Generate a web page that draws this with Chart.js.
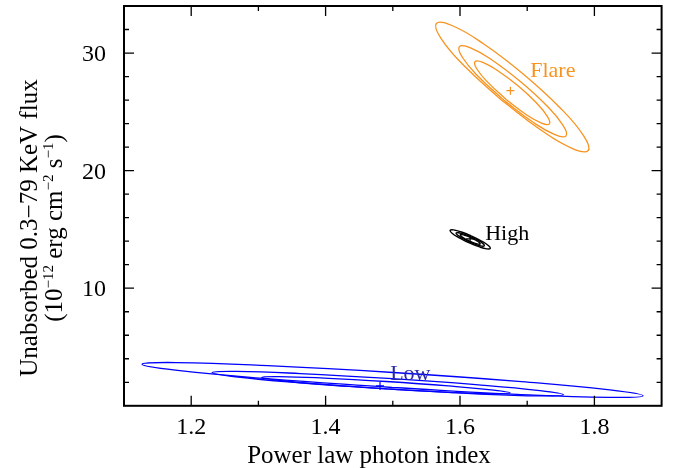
<!DOCTYPE html>
<html>
<head>
<meta charset="utf-8">
<script src="https://cdn.jsdelivr.net/npm/chart.js@4.4.1/dist/chart.umd.min.js"></script>
<style>
  html, body { margin: 0; padding: 0; background: #fff; }
  canvas { display: block; }
</style>
</head>
<body>
<canvas id="myChart" width="681" height="468"></canvas>
<script>
// confidence contours, points: [photon index, flux]
const flare68 = [[1.6691,26.03],[1.6426,27.44],[1.6254,28.62],[1.6223,29.27],[1.6340,29.21],[1.6574,28.45],[1.6863,27.21],[1.7128,25.81],[1.7299,24.62],[1.7330,23.98],[1.7213,24.04],[1.6979,24.79]];
const flare90 = [[1.6665,25.93],[1.6284,27.94],[1.6037,29.62],[1.5991,30.54],[1.6157,30.44],[1.6491,29.35],[1.6903,27.56],[1.7284,25.56],[1.7531,23.87],[1.7578,22.96],[1.7412,23.06],[1.7078,24.15]];
const flare99 = [[1.6616,26.00],[1.6073,28.85],[1.5719,31.23],[1.5648,32.51],[1.5881,32.34],[1.6354,30.77],[1.6940,28.22],[1.7484,25.37],[1.7838,22.98],[1.7908,21.71],[1.7676,21.87],[1.7203,23.45]];

const high68 = [[1.6141,14.01],[1.6068,14.22],[1.6017,14.42],[1.6003,14.54],[1.6028,14.56],[1.6087,14.47],[1.6163,14.29],[1.6236,14.08],[1.6287,13.89],[1.6301,13.77],[1.6276,13.75],[1.6217,13.84]];
const high90 = [[1.6136,13.95],[1.6033,14.25],[1.5962,14.52],[1.5941,14.69],[1.5977,14.72],[1.6060,14.60],[1.6168,14.35],[1.6271,14.06],[1.6342,13.79],[1.6362,13.61],[1.6326,13.58],[1.6243,13.71]];
const high99 = [[1.6130,13.87],[1.5983,14.30],[1.5882,14.68],[1.5853,14.92],[1.5904,14.96],[1.6022,14.78],[1.6174,14.43],[1.6320,14.01],[1.6421,13.63],[1.6450,13.39],[1.6399,13.35],[1.6282,13.53]];

const low68 = [[1.4895,1.439],[1.3971,1.814],[1.3296,2.172],[1.3050,2.419],[1.3299,2.487],[1.3977,2.358],[1.4902,2.067],[1.5826,1.693],[1.6502,1.334],[1.6748,1.088],[1.6498,1.020],[1.5820,1.148]];
const low90 = [[1.4919,1.431],[1.3613,1.962],[1.2658,2.470],[1.2310,2.821],[1.2663,2.921],[1.3621,2.741],[1.4929,2.331],[1.6235,1.800],[1.7190,1.292],[1.7538,0.940],[1.7185,0.841],[1.6227,1.020]];
const low99 = [[1.4990,1.558],[1.3127,2.314],[1.1765,3.038],[1.1269,3.537],[1.1772,3.677],[1.3139,3.419],[1.5004,2.833],[1.6867,2.077],[1.8229,1.353],[1.8725,0.854],[1.8222,0.715],[1.6855,0.973]];

// best fit positions
const flareBest = [1.675, 26.8];
const highBest = [1.615, 14.2];
const lowBest = [1.481, 1.69];

// state labels [name, x, y]
const stateLabels = [['Flare', 1.7045, 28.0], ['High', 1.6375, 14.11], ['Low', 1.4961, 2.20]];

const xMajor = [1.2, 1.4, 1.6, 1.8];
const xMinor = [1.3, 1.5, 1.7];
const yMajor = [10, 20, 30];
const yMinor = [2, 4, 6, 8, 12, 14, 16, 18, 22, 24, 26, 28, 32];
const xTickLabels = ['1.2', '1.4', '1.6', '1.8'];
const yTickLabels = ['10', '20', '30'];

const ORANGE = '#f7931e';
const BLUE = '#0000ff';
const BLUE_TEXT = '#2a2aa8';
const SERIF = '"Liberation Serif", "Times New Roman", serif';

function contour(pts, color, width) {
    let data = pts.concat([pts[0]]).map(p => ({ x: p[0], y: p[1] }));
    return {
        data,
        showLine: true,
        borderColor: color,
        borderWidth: width,
        pointRadius: 0,
        tension: 0.45,
        fill: false
    };
}

function best(p, color) {
    return {
        data: [{ x: p[0], y: p[1] }],
        showLine: false,
        pointStyle: 'cross',
        pointRadius: 4,
        borderColor: color,
        borderWidth: 1.2
    };
}

let datasets = [
    contour(flare68, ORANGE, 1.3), contour(flare90, ORANGE, 1.3), contour(flare99, ORANGE, 1.3),
    contour(high68, '#000', 1.4), contour(high90, '#000', 1.4), contour(high99, '#000', 1.4),
    contour(low68, BLUE, 1.3), contour(low90, BLUE, 1.3), contour(low99, BLUE, 1.3),
    best(flareBest, ORANGE), best(highBest, '#000'), best(lowBest, BLUE)
];

// draws frame, ticks on all four sides, tick labels, titles and state labels
const framePlugin = {
    id: 'frame',
    afterDraw(chart) {
        let ctx = chart.ctx;
        let a = chart.chartArea;
        let xs = chart.scales.x, ys = chart.scales.y;
        ctx.save();
        ctx.strokeStyle = '#000';
        ctx.lineWidth = 1.3;
        ctx.beginPath();
        xMajor.concat(xMinor).forEach(v => {
            let len = xMajor.includes(v) ? 10 : 5;
            let px = xs.getPixelForValue(v);
            ctx.moveTo(px, a.bottom); ctx.lineTo(px, a.bottom - len);
            ctx.moveTo(px, a.top); ctx.lineTo(px, a.top + len);
        });
        yMajor.concat(yMinor).forEach(v => {
            let len = yMajor.includes(v) ? 10 : 5;
            let py = ys.getPixelForValue(v);
            ctx.moveTo(a.left, py); ctx.lineTo(a.left + len, py);
            ctx.moveTo(a.right, py); ctx.lineTo(a.right - len, py);
        });
        ctx.stroke();

        ctx.lineWidth = 2;
        ctx.strokeRect(a.left, a.top, a.right - a.left, a.bottom - a.top);

        ctx.fillStyle = '#000';
        ctx.font = '24px ' + SERIF;
        ctx.textAlign = 'center';
        ctx.textBaseline = 'alphabetic';
        xMajor.forEach((v, i) => ctx.fillText(xTickLabels[i], xs.getPixelForValue(v), 434));
        ctx.textAlign = 'right';
        yMajor.forEach((v, i) => ctx.fillText(yTickLabels[i], 106, ys.getPixelForValue(v) + 8));

        ctx.font = '25px ' + SERIF;
        ctx.textAlign = 'center';
        ctx.fillText('Power law photon index', 369, 463);

        // y title, two rotated lines
        drawRotated(ctx, 37, 228, [['Unabsorbed 0.3\u221279 KeV flux', 0]]);
        drawRotated(ctx, 62, 228, [['(10', 0], ['\u221212', 1], [' erg cm', 0], ['\u22122', 1], [' s', 0], ['\u22121', 1], [')', 0]]);

        ctx.font = '22px ' + SERIF;
        ctx.textAlign = 'left';
        let colors = [ORANGE, '#000', BLUE_TEXT];
        stateLabels.forEach((l, i) => {
            ctx.fillStyle = colors[i];
            ctx.fillText(l[0], xs.getPixelForValue(l[1]), ys.getPixelForValue(l[2]));
        });
        ctx.restore();
    }
};

function drawRotated(ctx, x, y, parts) {
    const big = '25px ' + SERIF, small = '15px ' + SERIF;
    let total = 0;
    parts.forEach(p => { ctx.font = p[1] ? small : big; total += ctx.measureText(p[0]).width; });
    ctx.save();
    ctx.translate(x, y);
    ctx.rotate(-Math.PI / 2);
    ctx.textAlign = 'left';
    ctx.textBaseline = 'alphabetic';
    ctx.fillStyle = '#000';
    let cx = -total / 2;
    parts.forEach(p => {
        ctx.font = p[1] ? small : big;
        ctx.fillText(p[0], cx, p[1] ? -9 : 0);
        cx += ctx.measureText(p[0]).width;
    });
    ctx.restore();
}

let ctx = document.getElementById('myChart');
new Chart(ctx, {
    type: 'scatter',
    data: { datasets },
    options: {
        responsive: false,
        animation: false,
        layout: { padding: { left: 124, right: 19.4, top: 6, bottom: 62.2 } },
        plugins: { legend: { display: false }, tooltip: { enabled: false } },
        scales: {
            x: { type: 'linear', min: 1.1, max: 1.9, display: false },
            y: { type: 'linear', min: 0, max: 34, display: false }
        }
    },
    plugins: [framePlugin]
});
</script>
</body>
</html>
